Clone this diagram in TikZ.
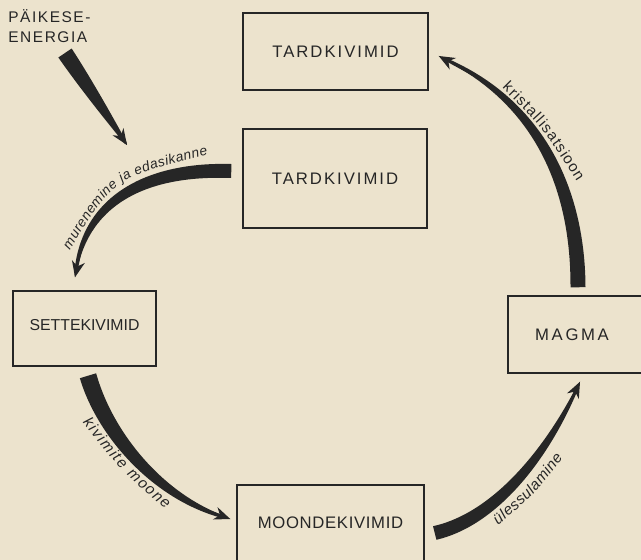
\documentclass[tikz,border=0pt]{standalone}
\usepackage{fontspec}
\setmainfont{Liberation Sans}
\usepackage{tikz}
\usetikzlibrary{arrows.meta,calc,decorations.text}
\definecolor{paper}{RGB}{236,227,205}
\definecolor{ink}{RGB}{38,38,38}

% tapered band along a curve, thin end carries the arrow tip
\newcommand{\bandarrow}[6]{%
  \foreach \k in {0,...,40}{
    \path #1 .. controls #2 and #3 .. #4 coordinate[pos=\k/40] (bp\k);
  }
  \foreach \k in {0,...,39}{
    \pgfmathsetmacro{\hw}{0.01*(#5-(#5-#6)*(\k/40)*sqrt(\k/40))}
    \pgfmathtruncatemacro{\kn}{\k+1}
    \coordinate (bl\k) at ($(bp\k)!\hw cm!90:(bp\kn)$);
    \coordinate (br\k) at ($(bp\k)!\hw cm!-90:(bp\kn)$);
  }
  \fill[ink] (bl0) \foreach \k in {1,...,39}{ -- (bl\k) } -- (bp40)
    \foreach \k in {39,...,0}{ -- (br\k) } -- cycle;
  \draw[tip] (bp34) -- (bp40);
}

\begin{document}
\begin{tikzpicture}[x=0.02cm, y=-0.02cm,
    rock/.style={draw=ink, line width=0.85pt, inner sep=0pt, text=ink,
                 font=\fontsize{9.5}{11}\selectfont\addfontfeature{LetterSpace=12}},
    tip/.style={ink, line width=0.04cm, -{Stealth[length=0.32cm, width=0.26cm, inset=0.1cm]}},
    along/.style={decorate, decoration={text along path, text align={fit to path}, text={#1}}}
  ]
  \fill[paper] (0,0) rectangle (641,560);
  \useasboundingbox (0,0) rectangle (641,560);

  \node[rock, minimum width=3.70cm, minimum height=1.54cm] (tard1) at (335.5,51.5) {TARDKIVIMID};
  \node[rock, minimum width=3.68cm, minimum height=1.98cm] (tard2) at (335,178.5) {TARDKIVIMID};
  \node[rock, minimum width=2.86cm, minimum height=1.50cm, text depth=0.14cm,
        font=\fontsize{9}{11}\selectfont] (sette) at (84.5,328.5) {SETTEKIVIMID};
  \node[rock, minimum width=3.00cm, minimum height=1.54cm,
        font=\fontsize{9.5}{11}\selectfont\addfontfeature{LetterSpace=16}] (magma) at (583,334.5)
        {MAGMA\hspace*{0.44cm}};
  \node[rock, minimum width=3.74cm, minimum height=1.52cm,
        font=\fontsize{9.5}{11}\selectfont\addfontfeature{LetterSpace=4}] (moonde) at (330.5,523)
        {MOONDEKIVIMID};
  \node[anchor=north west, align=left, inner sep=0pt, text=ink,
        font=\fontsize{8.8}{11.7}\selectfont\addfontfeature{LetterSpace=10}] (sun) at (8,9)
        {PÄIKESE-\\ENERGIA};

  \coordinate (sunA) at (65,53);
  \coordinate (sunB) at (127,145);
  \coordinate (murA) at ($(tard2.west)+(-11,-7.5)$);
  \coordinate (murB) at ($(sette.north)+(-9.5,-13)$);
  \coordinate (metA) at ($(sette.south)+(3.5,9)$);
  \coordinate (metB) at ($(moonde.west)+(-6,-4)$);
  \coordinate (melA) at ($(moonde.east)+(10,10)$);
  \coordinate (melB) at ($(magma.south)+(-3,8)$);
  \coordinate (kriA) at ($(magma.north)+(-5,-8)$);
  \coordinate (kriB) at ($(tard1.east)+(10,4.5)$);

  \bandarrow{(sunA)}{($(sunA)!1/3!(sunB)$)}{($(sunA)!2/3!(sunB)$)}{(sunB)}{16}{2}
  \bandarrow{(murA)}{(140,168)}{(82,205)}{(murB)}{14}{2}
  \bandarrow{(metA)}{(105,435)}{(160,500)}{(metB)}{17}{2}
  \bandarrow{(melA)}{(500,518)}{(552,445)}{(melB)}{14}{2}
  \bandarrow{(kriA)}{(578,190)}{(540,100)}{(kriB)}{15}{2}

  \path[along={|\color{ink}\fontsize{7.8}{10}\selectfont\itshape|murenemine ja edasikanne}]
    (70,250) .. controls (114,178) .. (208,155);
  \path[along={|\color{ink}\fontsize{8.6}{10}\selectfont|kristallisatsioon}]
    (502,88) .. controls (544,130) .. (577,182);
  \path[along={|\color{ink}\fontsize{8.6}{10}\selectfont\itshape|kivimite moone}]
    (82.5,422.4) .. controls (120,469.6) .. (165.5,509.4);
  \path[along={|\color{ink}\fontsize{8.6}{10}\selectfont\itshape|ülessulamine}]
    (498,525) .. controls (534,495) .. (563,458);
\end{tikzpicture}
\end{document}
